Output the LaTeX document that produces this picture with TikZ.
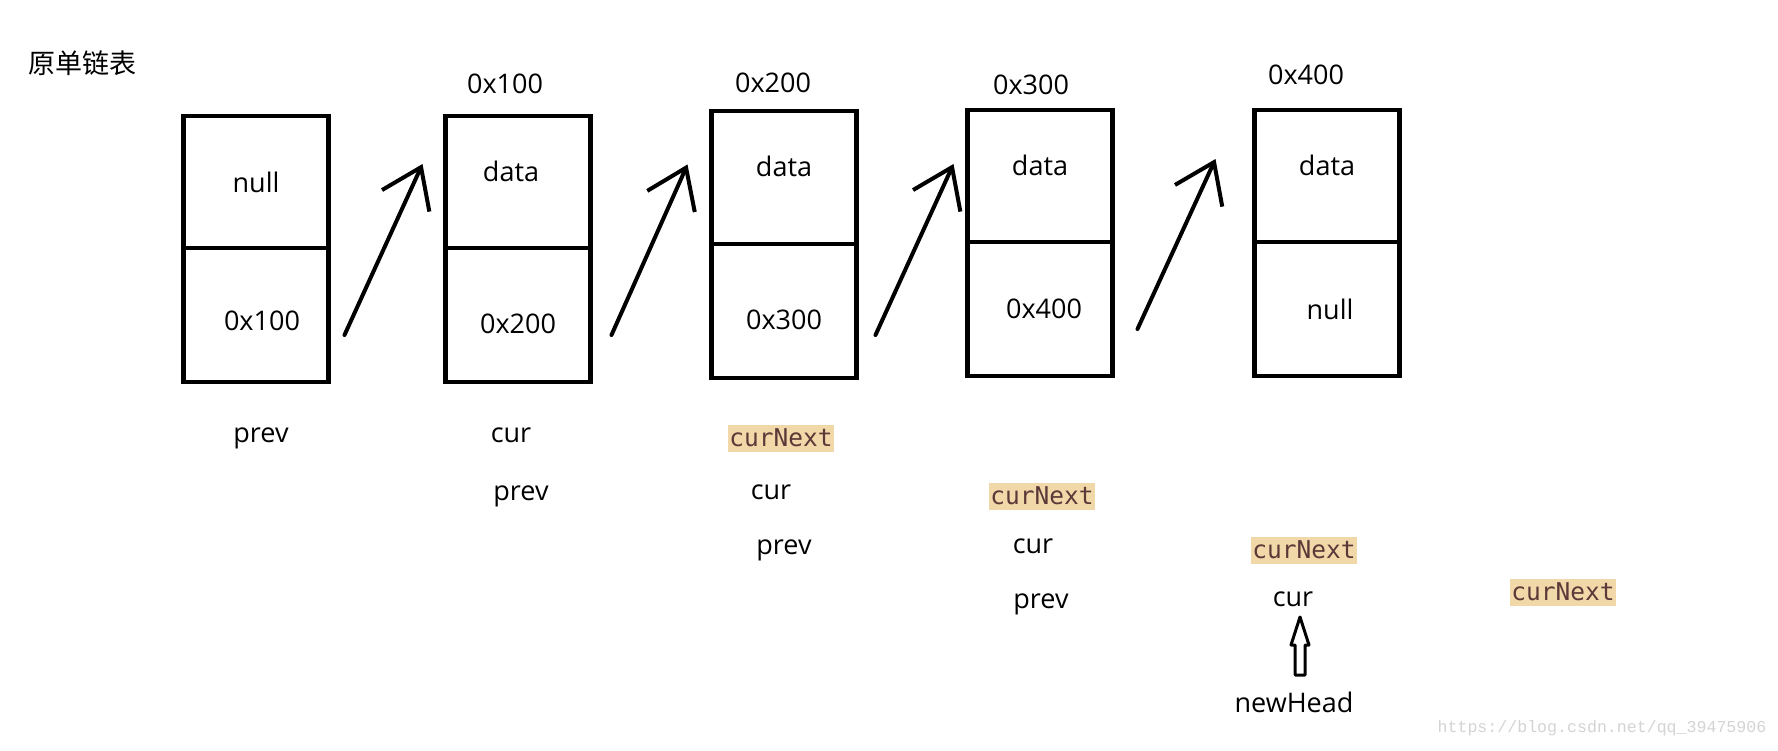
\documentclass[tikz,border=0pt]{standalone}
\usepackage{fontspec}
\setmainfont{Open Sans}
\newfontfamily\cjkfont{Noto Sans CJK SC}
\newfontfamily\codefont{DejaVu Sans Mono}
\newfontfamily\markfont{Liberation Mono}
\usetikzlibrary{arrows.meta,calc,positioning}
\definecolor{nextbg}{RGB}{240,216,168}
\definecolor{nexttxt}{RGB}{92,56,56}
\definecolor{markgray}{RGB}{212,212,212}
\tikzset{
  cell/.style={draw,line width=4.5pt,outer sep=0pt,minimum width=145pt,font=\fontsize{27}{32}\selectfont},
  up/.style={text height=19pt,text depth=20pt},
  down/.style={text height=#1,text depth=0pt},
  lbl/.style={font=\fontsize{27}{32}\selectfont,inner sep=0pt},
  nxt/.style={fill=nextbg,text=nexttxt,font=\codefont\fontsize{24.5}{28}\selectfont,inner xsep=1.5pt,inner ysep=0pt,minimum height=27pt},
  link/.style={line width=4pt,line cap=round,-{Straight Barb[length=37pt,width=52pt]}},
  hollow/.style={line width=3pt,line join=round}
}
\begin{document}
\begin{tikzpicture}[x=1pt,y=-1pt]
\path[use as bounding box,fill=white] (0,0) rectangle (1778,751);
\node[lbl,font=\cjkfont\fontsize{27}{32}\selectfont] (title) at (82,63) {原单链表};
% list nodes
\node[cell,minimum height=132pt,anchor=north] (c1t) at (256,116) {null};
\node[cell,minimum height=134pt,below=0pt of c1t,down=31pt] (c1b) {\hspace*{12pt}0x100};
\node[cell,minimum height=132pt,anchor=north,up] (c2t) at (518,116) {data\hspace*{14pt}};
\node[cell,minimum height=134pt,below=0pt of c2t,down=37pt] (c2b) {0x200};
\node[cell,minimum height=133pt,anchor=north,up] (c3t) at (784,111) {data};
\node[cell,minimum height=134pt,below=0pt of c3t,down=37pt] (c3b) {0x300};
\node[cell,minimum height=132pt,anchor=north,up] (c4t) at (1040,110) {data};
\node[cell,minimum height=134pt,below=0pt of c4t] (c4b) {\hspace*{8pt}0x400};
\node[cell,minimum height=132pt,anchor=north,up] (c5t) at (1327,110) {data};
\node[cell,minimum height=134pt,below=0pt of c5t] (c5b) {\hspace*{6pt}null};
% addresses
\node[lbl] (a2) at (505,84) {0x100};
\node[lbl] (a3) at (773,83) {0x200};
\node[lbl] (a4) at (1031,85) {0x300};
\node[lbl] (a5) at (1306,75) {0x400};
% next pointers
\draw[link] ($(c1b.east)+(16,20)$) -- ($(c2t.west)+(-23,-18)$);
\draw[link] ($(c2b.east)+(21,20)$) -- ($(c3t.west)+(-24,-13)$);
\draw[link] ($(c3b.east)+(19,24)$) -- ($(c4t.west)+(-14,-12)$);
\draw[link] ($(c4b.east)+(25,20)$) -- ($(c5t.west)+(-39,-17)$);
% pointer names
\node[lbl] (p1) at (261,438) {prev};
\node[lbl] (r2) at (511,435) {cur};
\node[lbl] (p2) at (521,496) {prev};
\node[nxt] (n3) at (781,438) {curNext};
\node[lbl] (r3) at (771,492) {cur};
\node[lbl] (p3) at (784,550) {prev};
\node[nxt] (n4) at (1042,496) {curNext};
\node[lbl] (r4) at (1033,546) {cur};
\node[lbl] (p4) at (1041,604) {prev};
\node[nxt] (n5) at (1304,550) {curNext};
\node[lbl] (r5) at (1293,599) {cur};
\node[nxt] (n6) at (1563,592) {curNext};
\node[lbl] (head) at (1294,702) {newHead};
%\draw[->] (head) -- (r5);
\coordinate (tip) at (1300,617);
\draw[hollow] (tip) -- ++(9,28) -- ++(-4,0) -- ++(0,30) -- ++(-10,0) -- ++(0,-30) -- ++(-4,0) -- cycle;
\node[markgray,font=\markfont\fontsize{16.6}{20}\selectfont] (mark) at (1602,728) {https://blog.csdn.net/qq\_39475906};
\end{tikzpicture}
\end{document}
